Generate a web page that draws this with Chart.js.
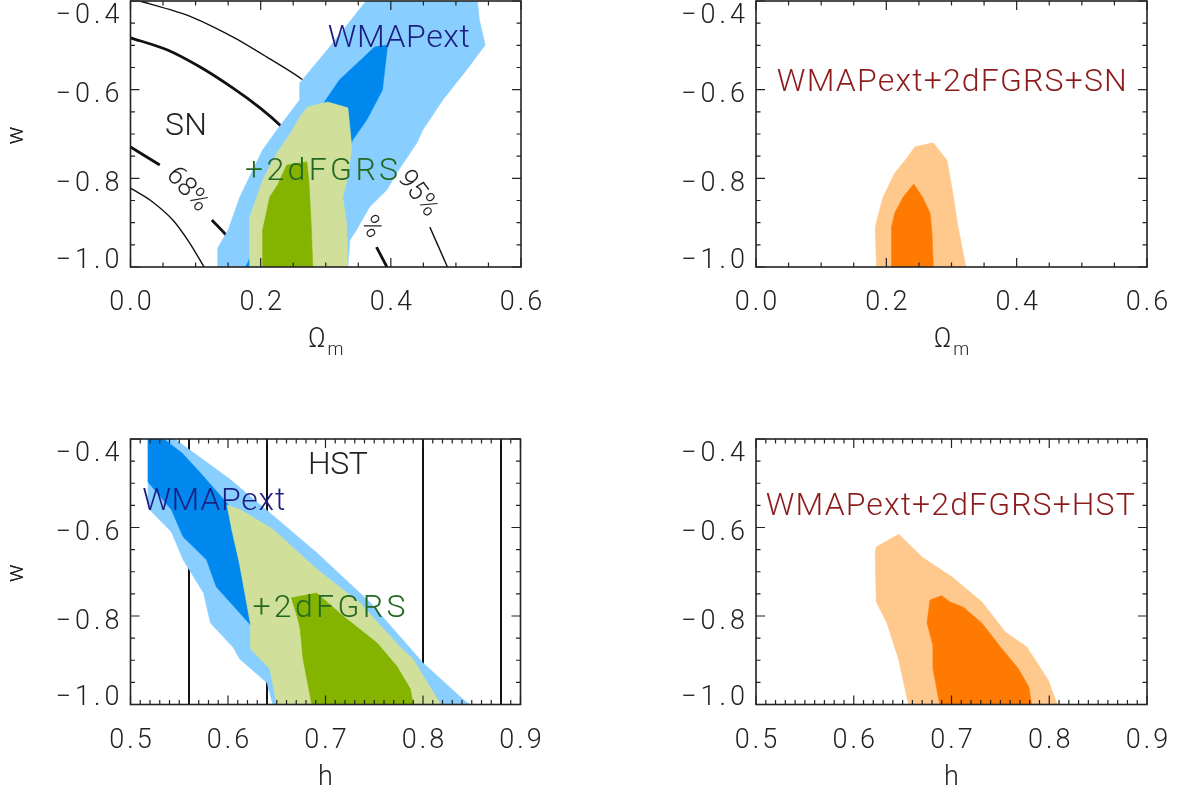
<!DOCTYPE html>
<html>
<head>
<meta charset="utf-8">
<title>w constraints</title>
<script src="https://cdn.jsdelivr.net/npm/chart.js"></script>
<style>
  body { margin: 0; background: #fff; }
  #wrap { position: relative; width: 1180px; height: 792px; overflow: hidden; }
  #wrap canvas { position: absolute; left: 0; top: 0; }
</style>
</head>
<body>
<div id="wrap">
  <canvas id="c1" width="1180" height="792"></canvas>
  <canvas id="c2" width="1180" height="792"></canvas>
  <canvas id="c3" width="1180" height="792"></canvas>
  <canvas id="c4" width="1180" height="792"></canvas>
</div>
<script>
// tick labels
const omTicks = [0.0, 0.2, 0.4, 0.6];
const hTicks = [0.5, 0.6, 0.7, 0.8, 0.9];
const wTicks = [-1.0, -0.8, -0.6, -0.4];

// panel 1: WMAPext and +2dFGRS contours in (Omega_m, w), [x, y] pairs
const wmapOuterOm = [[0.134,-1.0],[0.134,-0.957],[0.150,-0.917],[0.168,-0.842],[0.203,-0.736],[0.225,-0.691],[0.260,-0.623],[0.260,-0.585],[0.306,-0.504],[0.362,-0.400],[0.533,-0.400],[0.536,-0.443],[0.545,-0.499],[0.516,-0.556],[0.480,-0.623],[0.449,-0.691],[0.440,-0.720],[0.409,-0.788],[0.394,-0.826],[0.367,-0.865],[0.347,-0.917],[0.337,-0.939],[0.334,-1.0]];
const wmapInnerOm = [[0.177,-1.0],[0.298,-0.628],[0.321,-0.578],[0.375,-0.504],[0.395,-0.499],[0.387,-0.601],[0.363,-0.668],[0.341,-0.714],[0.314,-0.849],[0.291,-1.0]];
const tdfOuterOm = [[0.183,-1.0],[0.183,-0.889],[0.194,-0.842],[0.203,-0.804],[0.225,-0.743],[0.249,-0.691],[0.260,-0.662],[0.272,-0.639],[0.303,-0.628],[0.334,-0.641],[0.340,-0.729],[0.334,-0.797],[0.326,-0.842],[0.332,-0.901],[0.334,-1.0]];
const tdfInnerOm = [[0.203,-1.0],[0.203,-0.917],[0.214,-0.842],[0.226,-0.815],[0.240,-0.770],[0.271,-0.763],[0.274,-0.804],[0.278,-0.917],[0.280,-1.0]];

// SN contour lines (split where the labels sit)
const sn95UpperA = [[0.0146,-0.400],[0.087,-0.432],[0.157,-0.481],[0.209,-0.526],[0.263,-0.576],[0.321,-0.646],[0.375,-0.725],[0.400,-0.770]];
const sn95UpperB = [[0.460,-0.910],[0.487,-1.0]];
const sn68UpperA = [[0.0,-0.483],[0.056,-0.510],[0.107,-0.549],[0.157,-0.596],[0.199,-0.641],[0.232,-0.683],[0.285,-0.760],[0.330,-0.850]];
const sn68UpperB = [[0.378,-0.955],[0.394,-1.0]];
const sn68LowerA = [[0.0,-0.729],[0.025,-0.752],[0.045,-0.770]];
const sn68LowerB = [[0.125,-0.894],[0.148,-0.930],[0.165,-0.973],[0.173,-1.0]];
const sn95Lower = [[0.0,-0.822],[0.030,-0.849],[0.065,-0.894],[0.091,-0.946],[0.113,-1.0]];

// panel 2: WMAPext+2dFGRS+SN
const allSnOuter = [[0.185,-1.0],[0.183,-0.910],[0.195,-0.842],[0.213,-0.788],[0.229,-0.759],[0.244,-0.729],[0.272,-0.720],[0.293,-0.759],[0.302,-0.833],[0.310,-0.910],[0.322,-1.0]];
const allSnInner = [[0.208,-1.0],[0.208,-0.910],[0.213,-0.878],[0.226,-0.842],[0.242,-0.813],[0.256,-0.844],[0.267,-0.878],[0.270,-0.923],[0.272,-1.0]];

// panel 3: WMAPext and +2dFGRS contours in (h, w)
const wmapOuterH = [[0.518,-0.4],[0.546,-0.401],[0.602,-0.491],[0.643,-0.567],[0.691,-0.657],[0.746,-0.770],[0.800,-0.906],[0.841,-0.988],[0.848,-1.0],[0.646,-1.0],[0.640,-0.951],[0.612,-0.897],[0.605,-0.870],[0.582,-0.816],[0.575,-0.748],[0.554,-0.673],[0.542,-0.610],[0.518,-0.556]];
const wmapInnerH = [[0.518,-0.4],[0.534,-0.4],[0.553,-0.432],[0.571,-0.475],[0.599,-0.545],[0.617,-0.606],[0.623,-0.718],[0.623,-0.820],[0.588,-0.734],[0.578,-0.673],[0.554,-0.621],[0.542,-0.560],[0.518,-0.497]];
const tdfOuterH = [[0.599,-0.549],[0.612,-0.559],[0.646,-0.604],[0.691,-0.694],[0.735,-0.770],[0.776,-0.869],[0.790,-0.898],[0.817,-0.996],[0.818,-1.0],[0.650,-1.0],[0.643,-0.920],[0.623,-0.874],[0.623,-0.818],[0.612,-0.684],[0.604,-0.606]];
const tdfInnerH = [[0.665,-0.759],[0.691,-0.748],[0.718,-0.800],[0.753,-0.861],[0.773,-0.913],[0.787,-0.965],[0.790,-1.0],[0.686,-1.0],[0.677,-0.897],[0.674,-0.829],[0.672,-0.809]];
const hstLines = [0.56, 0.64, 0.80, 0.88];

// panel 4: WMAPext+2dFGRS+HST
const allHstOuter = [[0.656,-1.0],[0.646,-0.899],[0.634,-0.816],[0.623,-0.768],[0.622,-0.658],[0.623,-0.644],[0.646,-0.615],[0.670,-0.667],[0.702,-0.714],[0.714,-0.737],[0.731,-0.768],[0.755,-0.836],[0.777,-0.870],[0.799,-0.945],[0.808,-1.0]];
const allHstInner = [[0.688,-1.0],[0.681,-0.918],[0.681,-0.866],[0.675,-0.816],[0.678,-0.764],[0.690,-0.754],[0.698,-0.768],[0.712,-0.780],[0.731,-0.816],[0.750,-0.870],[0.768,-0.918],[0.779,-0.960],[0.782,-1.0]];

const FONT = 'Roboto, "Liberation Sans", sans-serif';
const BLUE_OUT = 'rgb(136,206,255)', BLUE_IN = 'rgb(0,136,238)';
const GREEN_OUT = 'rgb(208,224,154)', GREEN_IN = 'rgb(132,180,0)';
const ORANGE_OUT = 'rgb(255,200,140)', ORANGE_IN = 'rgb(255,122,0)';
const NAVY = 'rgb(30,30,130)', DKGREEN = 'rgb(35,105,35)', DKRED = 'rgb(140,28,28)', INK = '#222';

function steps(a, b, d) {
  const n = Math.round((b - a) / d);
  return Array.from({ length: n + 1 }, (_, i) => +(a + i * d).toFixed(4));
}

function area(pts, color) {
  const d = pts.concat([pts[0]]).map(([x, y]) => ({ x, y }));
  return { data: d, fill: 'shape', backgroundColor: color, borderColor: color, borderWidth: 0.6, pointRadius: 0, tension: 0 };
}
// smooth contour line
function curve(pts, w, tension) {
  return { data: pts.map(([x, y]) => ({ x, y })), fill: false, borderColor: '#111', borderWidth: w, pointRadius: 0, tension: tension || 0 };
}

// text with optional rotation and a target width (wide IDL-like spacing)
function text(ctx, s, x, y, o) {
  ctx.save();
  ctx.font = `300 ${o.size}px ${FONT}`;
  ctx.fillStyle = o.color || INK;
  ctx.letterSpacing = '0px';
  const w0 = ctx.measureText(s).width;
  let sp = o.spacing || 0;
  if (o.width && s.length > 1) sp = (o.width - w0) / (s.length - 1);
  ctx.letterSpacing = sp + 'px';
  const w = w0 + sp * (s.length - 1);
  ctx.translate(x, y);
  if (o.angle) ctx.rotate(o.angle * Math.PI / 180);
  ctx.textAlign = 'left';
  ctx.textBaseline = o.baseline || 'alphabetic';
  const dx = o.align === 'center' ? -w / 2 : o.align === 'right' ? -w : 0;
  ctx.fillText(s, dx, 0);
  ctx.restore();
}

function note(ctx, xs, ys, n) {
  text(ctx, n.text, xs.getPixelForValue(n.x), ys.getPixelForValue(n.y), n);
}

function frame(cfg) {
  return {
    id: 'frame',
    beforeDatasetsDraw(chart) {
      const { ctx, scales: { x, y } } = chart;
      (cfg.under || []).forEach(n => note(ctx, x, y, n));
    },
    afterDatasetsDraw(chart) {
      const { ctx, chartArea: a, scales: { x, y } } = chart;
      const isMajor = (list, v) => list.some(m => Math.abs(m - v) < 1e-6);
      ctx.save();
      ctx.strokeStyle = INK;
      ctx.lineWidth = 1.2;
      ctx.beginPath();
      steps(cfg.xr[0], cfg.xr[1], cfg.xMinor).forEach(v => {
        const px = x.getPixelForValue(v);
        const len = isMajor(cfg.xTicks, v) ? 9 : 4.5;
        ctx.moveTo(px, a.bottom); ctx.lineTo(px, a.bottom - len);
        ctx.moveTo(px, a.top); ctx.lineTo(px, a.top + len);
      });
      steps(-1.0, -0.4, 0.05).forEach(v => {
        const py = y.getPixelForValue(v);
        const len = isMajor(wTicks, v) ? 9 : 4.5;
        ctx.moveTo(a.left, py); ctx.lineTo(a.left + len, py);
        ctx.moveTo(a.right, py); ctx.lineTo(a.right - len, py);
      });
      ctx.stroke();
      ctx.lineWidth = 1.6;
      ctx.strokeRect(a.left, a.top, a.right - a.left, a.bottom - a.top);
      ctx.restore();

      cfg.xTicks.forEach(v => text(ctx, v.toFixed(1), x.getPixelForValue(v), a.bottom + 43,
        { size: 27, spacing: 3, align: 'center', color: INK }));
      wTicks.forEach(v => {
        const cy = Math.min(Math.max(y.getPixelForValue(v) + 3, a.top + 12), a.bottom - 9);
        text(ctx, '\u2212' + Math.abs(v).toFixed(1), a.left - 11, cy + 9.5,
          { size: 27, spacing: 4, align: 'right', color: INK });
      });

      // axis titles
      const cx = (a.left + a.right) / 2;
      if (cfg.xTitle === 'om') {
        ctx.save();
        ctx.font = `300 27px ${FONT}`;
        const w1 = ctx.measureText('\u03A9').width;
        ctx.font = `300 18px ${FONT}`;
        const w2 = ctx.measureText('m').width;
        ctx.restore();
        const x0 = cx - (w1 + 2 + w2) / 2;
        text(ctx, '\u03A9', x0, a.bottom + 80, { size: 27 });
        text(ctx, 'm', x0 + w1 + 2, a.bottom + 88, { size: 18 });
      } else {
        text(ctx, 'h', cx, a.bottom + 80.5, { size: 27, align: 'center' });
      }
      text(ctx, 'w', 23, (a.top + a.bottom) / 2 + 1.5, { size: 24, angle: -90, align: 'center' });

      (cfg.over || []).forEach(n => note(ctx, x, y, n));
    }
  };
}

function makePanel(id, cfg, datasets) {
  return new Chart(document.getElementById(id), {
    type: 'line',
    data: { datasets },
    options: {
      responsive: false,
      animation: false,
      events: [],
      layout: { padding: cfg.pad },
      plugins: { legend: { display: false }, tooltip: { enabled: false } },
      scales: {
        x: { type: 'linear', min: cfg.xr[0], max: cfg.xr[1], display: false },
        y: { type: 'linear', min: -1.0, max: -0.4, display: false }
      },
      elements: { point: { radius: 0 } }
    },
    plugins: [frame(cfg)]
  });
}

// first dataset in the list is drawn on top
makePanel('c1', {
  pad: { left: 130.5, top: 1, right: 659, bottom: 525 },
  xr: [0, 0.6], xMinor: 0.05, xTicks: omTicks, xTitle: 'om',
  under: [
    { text: '68%', x: 0.087, y: -0.826, size: 27, width: 50, angle: 48, align: 'center', baseline: 'middle' },
    { text: '95%', x: 0.441, y: -0.835, size: 27, width: 50, angle: 53, align: 'center', baseline: 'middle' },
    { text: '68%', x: 0.377, y: -0.930, size: 27, width: 62, angle: 58, align: 'right', baseline: 'middle' }
  ],
  over: [
    { text: 'WMAPext', x: 0.303, y: -0.504, size: 32, width: 142, color: NAVY },
    { text: 'SN', x: 0.053, y: -0.702, size: 32, width: 42, color: INK },
    { text: '+2dFGRS', x: 0.176, y: -0.804, size: 32, width: 153, color: DKGREEN }
  ]
}, [
  area(tdfInnerOm, GREEN_IN), area(tdfOuterOm, GREEN_OUT),
  area(wmapInnerOm, BLUE_IN), area(wmapOuterOm, BLUE_OUT),
  curve(sn95UpperA, 1.4, 0.25), curve(sn95UpperB, 1.4), curve(sn95Lower, 1.4, 0.25),
  curve(sn68UpperA, 2.8, 0.25), curve(sn68UpperB, 2.8), curve(sn68LowerA, 2.8, 0.25), curve(sn68LowerB, 2.8, 0.25)
]);

makePanel('c2', {
  pad: { left: 756, top: 1, right: 33, bottom: 525 },
  xr: [0, 0.6], xMinor: 0.05, xTicks: omTicks, xTitle: 'om',
  over: [{ text: 'WMAPext+2dFGRS+SN', x: 0.032, y: -0.603, size: 32, width: 350, color: DKRED }]
}, [area(allSnInner, ORANGE_IN), area(allSnOuter, ORANGE_OUT)]);

makePanel('c3', {
  pad: { left: 130.5, top: 439, right: 659.5, bottom: 87.5 },
  xr: [0.5, 0.9], xMinor: 0.01, xTicks: hTicks, xTitle: 'h',
  over: [
    { text: 'HST', x: 0.682, y: -0.479, size: 32, width: 60, color: INK },
    { text: 'WMAPext', x: 0.512, y: -0.560, size: 32, width: 143, color: NAVY },
    { text: '+2dFGRS', x: 0.625, y: -0.802, size: 32, width: 153, color: DKGREEN }
  ]
}, [
  area(tdfInnerH, GREEN_IN), area(tdfOuterH, GREEN_OUT),
  area(wmapInnerH, BLUE_IN), area(wmapOuterH, BLUE_OUT),
  ...hstLines.map(h => curve([[h, -1.0], [h, -0.4]], 2))
]);

makePanel('c4', {
  pad: { left: 756, top: 439, right: 33, bottom: 87.5 },
  xr: [0.5, 0.9], xMinor: 0.01, xTicks: hTicks, xTitle: 'h',
  over: [{ text: 'WMAPext+2dFGRS+HST', x: 0.510, y: -0.572, size: 32, width: 369, color: DKRED }]
}, [area(allHstInner, ORANGE_IN), area(allHstOuter, ORANGE_OUT)]);
</script>
</body>
</html>
